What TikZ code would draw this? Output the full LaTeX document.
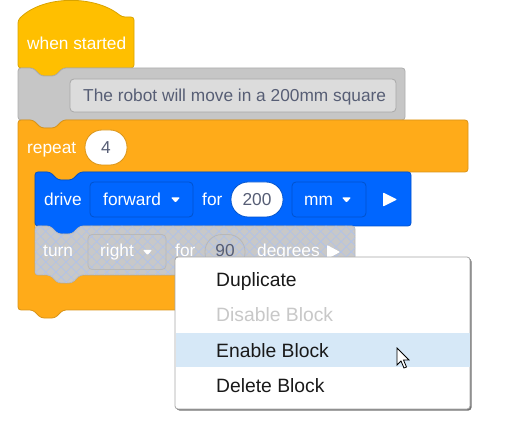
\documentclass[tikz,border=0pt]{standalone}
\usepackage{fontspec}
\setmainfont{Liberation Sans}
\usetikzlibrary{patterns.meta}
\definecolor{evt}{HTML}{FFBF00}
\definecolor{evtb}{HTML}{D9A300}
\definecolor{cmt}{HTML}{C6C6C6}
\definecolor{cmtb}{HTML}{ADADAD}
\definecolor{fld}{HTML}{DCDCDC}
\definecolor{fldb}{HTML}{A8A8A8}
\definecolor{ctl}{HTML}{FFAB19}
\definecolor{ctlb}{HTML}{D99418}
\definecolor{drv}{HTML}{0066FF}
\definecolor{drvb}{HTML}{0052CC}
\definecolor{txt}{HTML}{575E75}
\definecolor{dis}{HTML}{C8C8C8}
\definecolor{disb}{HTML}{B8B8B8}
\definecolor{hatchc}{HTML}{AFC2EC}
\definecolor{hl}{HTML}{D6E8F7}
\definecolor{mgray}{HTML}{C8C8C8}
\tikzset{
  stackshape/.style n args={4}{insert path={(#1,#2) -- ({#1+15},#2) -- ({#1+23},{#2+8}) -- ({#1+37},{#2+8}) -- ({#1+45},#2) -- (#3,#2) -- (#3,#4) -- ({#1+45},#4) -- ({#1+37},{#4+8}) -- ({#1+23},{#4+8}) -- ({#1+15},#4) -- (#1,#4) -- cycle}},
  btxt/.style={font=\fontsize{17.3}{20}\selectfont, inner sep=0pt, text=white, anchor=base west},
  vtxt/.style={font=\fontsize{17.3}{20}\selectfont, inner sep=0pt, text=txt, anchor=base},
  mtxt/.style={font=\fontsize{19.3}{22}\selectfont, inner sep=0pt, anchor=base west},
  blk/.style={rounded corners=3, line width=0.8pt},
  oval/.style={rounded corners=17, line width=0.8pt},
  ddbox/.style={rounded corners=4, line width=0.8pt},
  tri/.style={fill=white, rounded corners=0.8},
}
\begin{document}
\begin{tikzpicture}[x=1pt,y=-1pt]
\useasboundingbox (0,0) rectangle (530,430);
% hat block
\draw[blk, fill=evt, draw=evtb] (18,68) -- (18,20) .. controls (43,-5) and (95,-5) .. (122,17) -- (134,17) -- (134,68) -- (63,68) -- (55,76) -- (41,76) -- (33,68) -- cycle;
\node[btxt] (ws) at (27,50) {when started};
% comment block
\draw[blk, fill=cmt, draw=cmtb] [stackshape={18}{68}{405}{120}];
\draw[fill=fld, draw=fldb, rounded corners=4, line width=0.8pt] (70,79) rectangle (396,112);
\node[btxt, text=txt] (cm) at (83,102) {The robot will move in a 200mm square};
% repeat block
\draw[blk, fill=ctl, draw=ctlb] (18,120) -- (33,120) -- (41,128) -- (55,128) -- (63,120) -- (468,120) -- (468,172) -- (80,172) -- (72,180) -- (58,180) -- (50,172) -- (35,172) -- (35,275) -- (50,275) -- (58,283) -- (72,283) -- (80,275) -- (200,275) -- (200,310) -- (63,310) -- (55,318) -- (41,318) -- (33,310) -- (18,310) -- cycle;
\node[btxt] (rp) at (27,154) {repeat};
\draw[oval, fill=white, draw=ctlb] (85,130) rectangle (127,165);
\node[vtxt] (n4) at (106,154) {4};
% drive block
\draw[blk, fill=drv, draw=drvb] [stackshape={35}{172}{411}{226}];
\node[btxt] (dr) at (44,206) {drive};
\draw[ddbox, draw=drvb] (90,182) rectangle (193,217);
\node[btxt] (fw) at (103,206) {forward};
\path[tri] (171,197.5) -- (180,197.5) -- (175.5,202.5) -- cycle;
\node[btxt] (f1) at (202,206) {for};
\draw[oval, fill=white, draw=drvb] (231,182) rectangle (283,217);
\node[vtxt] (n200) at (257,206) {200};
\draw[ddbox, draw=drvb] (292,182) rectangle (366,217);
\node[btxt] (mm) at (304,206) {mm};
\path[tri] (342,197.5) -- (351,197.5) -- (346.5,202.5) -- cycle;
\path[tri] (383,192.5) -- (397,199.5) -- (383,206.5) -- cycle;
% turn block (disabled)
\draw[blk, fill=dis, draw=disb] [stackshape={35}{226}{355}{275}];
\path[rounded corners=3, pattern={Hatch[angle=45,distance=7.2pt,line width=0.6pt]}, pattern color=hatchc] [stackshape={35}{226}{355}{275}];
\draw[ddbox, draw=disb] (88,234.5) rectangle (166,269.5);
\draw[oval, draw=disb] (205,234.5) rectangle (245,269.5);
\node[btxt] (tn) at (43,257) {turn};
\node[btxt] (rt) at (100,257) {right};
\path[tri] (143,250) -- (152,250) -- (147.5,255) -- cycle;
\node[btxt] (f2) at (175,257) {for};
\node[vtxt] (n90) at (225,257) {90};
\node[btxt] (dg) at (257,257) {degrees};
\path[tri] (327,245) -- (340,252) -- (327,259) -- cycle;
% context menu
\fill[black!55, rounded corners=3] (176.5,258.5) rectangle (471.5,410.5);
\draw[fill=white, draw=black!35, rounded corners=3, line width=0.8pt] (175,257) rectangle (470,409);
\fill[hl] (175.5,333) rectangle (469.5,367);
\node[mtxt, text=black!90] (m1) at (216,287) {Duplicate};
\node[mtxt, text=mgray] (m2) at (216,322) {Disable Block};
\node[mtxt, text=black!90] (m3) at (216,357) {Enable Block};
\node[mtxt, text=black!90] (m4) at (216,392) {Delete Block};
% cursor
\draw[fill=white, draw=black, line width=0.8pt, line join=miter] (397,348) -- (397,365) -- (401,361) -- (404,368) -- (406.5,367) -- (403.5,360) -- (409,360) -- cycle;
\end{tikzpicture}
\end{document}
